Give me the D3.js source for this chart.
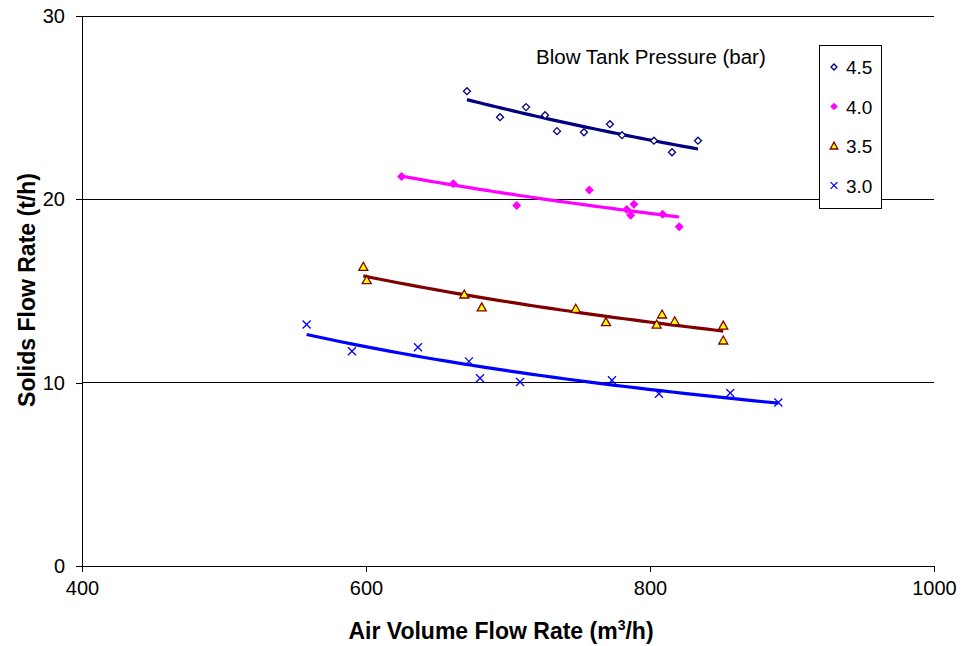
<!DOCTYPE html>
<html>
<head>
<meta charset="utf-8">
<script src="https://cdn.jsdelivr.net/npm/d3@7/dist/d3.min.js"></script>
<style>
body { margin: 0; background: #fff; }
svg { font-family: "Liberation Sans", Arial, sans-serif; }
</style>
</head>
<body>
<svg id="chart" width="962" height="646"></svg>
<script>
// data
var p45x = [671.1, 694.4, 712.7, 726.1, 734.5, 753.5, 771.8, 780.3, 802.8, 815.5, 833.8];
var p45y = [25.9, 24.48, 25.03, 24.59, 23.72, 23.66, 24.1, 23.5, 23.2, 22.57, 23.2];
var p40x = [625.1, 661.5, 706.1, 757.3, 783.6, 786.4, 788.7, 808.9, 820.6];
var p40y = [21.24, 20.85, 19.67, 20.51, 19.45, 19.13, 19.73, 19.18, 18.51];
var p35x = [598.1, 600.5, 669.2, 681.5, 747.7, 769.0, 804.7, 808.5, 817.4, 851.6, 851.6];
var p35y = [16.32, 15.59, 14.81, 14.11, 14.03, 13.30, 13.17, 13.72, 13.35, 13.11, 12.30];
var p30x = [558.2, 590.1, 636.6, 672.5, 680.3, 708.5, 773.2, 806.3, 856.5, 890.4];
var p30y = [13.17, 11.71, 11.93, 11.16, 10.24, 10.04, 10.13, 9.40, 9.44, 8.92];

var seriesNames = ["4.5", "4.0", "3.5", "3.0"];
var xTicks = [400, 600, 800, 1000];
var yTicks = [0, 10, 20, 30];

var series = [
	{xs: p45x, ys: p45y, marker: "diamondOpen", color: "#000080"},
	{xs: p40x, ys: p40y, marker: "diamond", color: "#ff00ff"},
	{xs: p35x, ys: p35y, marker: "triangle", color: "#800000"},
	{xs: p30x, ys: p30y, marker: "cross", color: "#0000ff"}
];

var svg = d3.select("#chart");
var plotLeft = 82, plotRight = 934, plotTop = 16, plotBottom = 566;

var x = d3.scaleLinear().domain([400, 1000]).range([plotLeft, plotRight]);
var y = d3.scaleLinear().domain([0, 30]).range([plotBottom, plotTop]);

// gridlines
svg.append("g").selectAll("line").data(yTicks.filter(function(d){ return d > 0; })).enter()
	.append("line")
	.attr("x1", plotLeft).attr("x2", plotRight)
	.attr("y1", function(d){ return y(d); }).attr("y2", function(d){ return y(d); })
	.attr("stroke", "#000").attr("stroke-width", 1).attr("shape-rendering", "crispEdges");

// axes
var yAxis = svg.append("g").attr("transform", "translate(" + plotLeft + ",0)")
	.call(d3.axisLeft(y).tickValues(yTicks).tickFormat(d3.format("d")).tickSize(6).tickPadding(11).tickSizeOuter(0));
var xAxis = svg.append("g").attr("transform", "translate(0," + plotBottom + ")")
	.call(d3.axisBottom(x).tickValues(xTicks).tickFormat(d3.format("d")).tickSize(6).tickPadding(9).tickSizeOuter(0));
[yAxis, xAxis].forEach(function(a){
	a.select(".domain").attr("stroke", "#000").attr("shape-rendering", "crispEdges");
	a.selectAll(".tick line").attr("stroke", "#000").attr("shape-rendering", "crispEdges");
	a.selectAll("text").attr("font-size", 20).attr("fill", "#000")
		.attr("font-family", "Liberation Sans, Arial, sans-serif");
});

// power trendline like the spreadsheet: y = a * x^b
function powerFit(xs, ys){
	var n = xs.length, sx = 0, sy = 0, sxx = 0, sxy = 0;
	for(var i = 0; i < n; i++){
		var lx = Math.log(xs[i]), ly = Math.log(ys[i]);
		sx += lx; sy += ly; sxx += lx * lx; sxy += lx * ly;
	}
	var b = (n * sxy - sx * sy) / (n * sxx - sx * sx);
	var a = Math.exp((sy - b * sx) / n);
	return function(v){ return a * Math.pow(v, b); };
}

var line = d3.line().x(function(d){ return x(d[0]); }).y(function(d){ return y(d[1]); });

series.forEach(function(s){
	var f = powerFit(s.xs, s.ys);
	var x0 = d3.min(s.xs), x1 = d3.max(s.xs);
	var pts = d3.range(0, 41).map(function(i){
		var v = x0 + (x1 - x0) * i / 40;
		return [v, f(v)];
	});
	svg.append("path").attr("d", line(pts))
		.attr("fill", "none").attr("stroke", s.color).attr("stroke-width", 3.2);
});

function drawMarker(g, type, cx, cy, k){
	k = k || 1;
	if(type === "diamondOpen"){
		var r = 3.5 * k;
		g.append("path").attr("d", "M" + cx + "," + (cy - r) + "L" + (cx + r) + "," + cy + "L" + cx + "," + (cy + r) + "L" + (cx - r) + "," + cy + "Z")
			.attr("fill", "#fff").attr("stroke", "#000080").attr("stroke-width", 1.3);
	}
	else if(type === "diamond"){
		var r2 = 4.5 * k;
		g.append("path").attr("d", "M" + cx + "," + (cy - r2) + "L" + (cx + r2) + "," + cy + "L" + cx + "," + (cy + r2) + "L" + (cx - r2) + "," + cy + "Z")
			.attr("fill", "#ff00ff");
	}
	else if(type === "triangle"){
		var t = 4.5 * k;
		g.append("path").attr("d", "M" + cx + "," + (cy - t) + "L" + (cx + t) + "," + (cy + t * 0.78) + "L" + (cx - t) + "," + (cy + t * 0.78) + "Z")
			.attr("fill", "#ffff00").attr("stroke", "#800000").attr("stroke-width", 1.3);
	}
	else if(type === "cross"){
		var c = 4 * k;
		g.append("path").attr("d", "M" + (cx - c) + "," + (cy - c) + "L" + (cx + c) + "," + (cy + c) + "M" + (cx + c) + "," + (cy - c) + "L" + (cx - c) + "," + (cy + c))
			.attr("stroke", "#0000ff").attr("stroke-width", 1.3).attr("fill", "none");
	}
}

series.forEach(function(s){
	var g = svg.append("g");
	for(var i = 0; i < s.xs.length; i++){
		drawMarker(g, s.marker, x(s.xs[i]), y(s.ys[i]));
	}
});

// legend
svg.append("text").attr("x", 536).attr("y", 64).attr("font-size", 20.5).text("Blow Tank Pressure (bar)");
svg.append("rect").attr("x", 819.5).attr("y", 45.5).attr("width", 62).attr("height", 163)
	.attr("fill", "#fff").attr("stroke", "#000").attr("stroke-width", 1);
series.forEach(function(s, i){
	var ly = 67 + i * 39.5;
	drawMarker(svg.append("g"), s.marker, 834, ly, 0.85);
	svg.append("text").attr("x", 846).attr("y", ly + 7).attr("font-size", 19).text(seriesNames[i]);
});

// axis titles
svg.append("text").attr("transform", "translate(35,290) rotate(-90)")
	.attr("text-anchor", "middle").attr("font-size", 23).attr("font-weight", "bold")
	.text("Solids Flow Rate (t/h)");
var xt = svg.append("text").attr("x", 501).attr("y", 639).attr("text-anchor", "middle")
	.attr("font-size", 23).attr("font-weight", "bold");
xt.append("tspan").text("Air Volume Flow Rate (m");
xt.append("tspan").attr("dy", -9).attr("font-size", 14).text("3");
xt.append("tspan").attr("dy", 9).text("/h)");
</script>
</body>
</html>
